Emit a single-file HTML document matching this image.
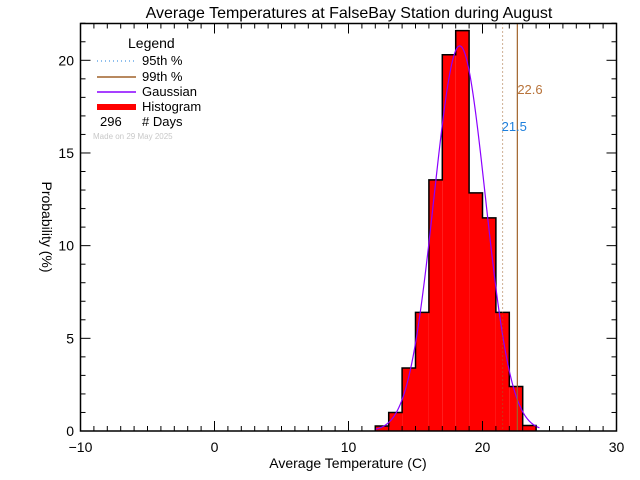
<!DOCTYPE html>
<html><head><meta charset="utf-8"><style>
html,body{margin:0;padding:0;background:#fff;}
svg{display:block;font-family:"Liberation Sans",sans-serif;}
</style></head><body>
<svg id="chart" width="640" height="480" viewBox="0 0 640 480">
<rect width="640" height="480" fill="#fff"/>
<text x="349" y="18" font-size="16" text-anchor="middle">Average Temperatures at FalseBay Station during August</text>
<g id="plot"></g>
<g id="axes"></g>
<text x="348" y="468" font-size="14" text-anchor="middle">Average Temperature (C)</text>
<text transform="translate(42,227) rotate(90)" font-size="14" text-anchor="middle">Probability  (%)</text>
<g>
<text x="128" y="48" font-size="14">Legend</text>
<line x1="97" y1="61" x2="136" y2="61" stroke="#1e7fdc" stroke-width="1" stroke-dasharray="1,3"/>
<text x="142" y="65" font-size="13">95th %</text>
<line x1="97" y1="77" x2="136" y2="77" stroke="#a0622a" stroke-width="1.5"/>
<text x="142" y="81" font-size="13">99th %</text>
<line x1="97" y1="92" x2="136" y2="92" stroke="#8a00ff" stroke-width="1.5"/>
<text x="142" y="96" font-size="13">Gaussian</text>
<line x1="97" y1="107" x2="136" y2="107" stroke="#ff0000" stroke-width="6"/>
<text x="142" y="111" font-size="13">Histogram</text>
<text x="100" y="126" font-size="13">296</text>
<text x="142" y="126" font-size="13"># Days</text>
<text x="93" y="139" font-size="8" fill="#c8c8c8">Made on 29 May 2025</text>
</g>
</svg>
<script>
const binStarts = [12,13,14,15,16,17,18,19,20,21,22,23];
const binValues = [0.27,1.0,3.4,6.4,13.55,20.3,21.6,12.85,11.5,6.4,2.4,0.3];
const gaussMean = 18.3;
const gaussSigma = 1.92;
const p95 = 21.5;
const p99 = 22.6;
const xTicks = [-10,0,10,20,30];
const yTicks = [0,5,10,15,20];

const L=80.5,R=616.5,T=23.5,B=431;
const xMin=-10,xMax=30,yMin=0,yMax=22;
const yScalePx=(B-60.3)/20;
function X(v){return L+(v-xMin)*(R-L)/(xMax-xMin);}
function Y(v){return B-(v-yMin)*yScalePx;}
const NS='http://www.w3.org/2000/svg';
function mk(tag,attrs,parent){const e=document.createElementNS(NS,tag);for(const k in attrs)e.setAttribute(k,attrs[k]);parent.appendChild(e);return e;}
const plot=document.getElementById('plot');
const axes=document.getElementById('axes');

// histogram
let d='M'+X(binStarts[0])+','+B;
binStarts.forEach((s,i)=>{
  const r=mk('rect',{x:X(s),y:Y(binValues[i]),width:X(s+1)-X(s),height:B-Y(binValues[i]),fill:'#ff0000'},plot);
  
  
  d+=' L'+X(s)+','+Y(binValues[i])+' L'+X(s+1)+','+Y(binValues[i]);
});
d+=' L'+X(binStarts[binStarts.length-1]+1)+','+B;
const outline=mk('path',{d:d,fill:'none',stroke:'#000','stroke-width':1.5},plot);



// gaussian
let g='';
for(let x=12;x<=24.3;x+=0.05){
  const v=100/(gaussSigma*Math.sqrt(2*Math.PI))*Math.exp(-0.5*Math.pow((x-gaussMean)/gaussSigma,2));
  g+=(g?' L':'M')+X(x).toFixed(2)+','+Y(v).toFixed(2);
}
const gp=mk('path',{d:g,fill:'none',stroke:'#8a00ff','stroke-width':1.2},plot);



// percentile lines
const l95=mk('line',{x1:X(p95),x2:X(p95),y1:T,y2:B,stroke:'#a0622a','stroke-width':1,'stroke-dasharray':'1,3'},plot);


const l99=mk('line',{x1:X(p99),x2:X(p99),y1:T,y2:B,stroke:'#a0622a','stroke-width':1.2},plot);


const t95=mk('text',{x:X(p95)-1,y:131,'font-size':13,fill:'#1e7fdc'},plot);
t95.textContent=p95.toFixed(1);


const t99=mk('text',{x:X(p99),y:94,'font-size':13,fill:'#b8733a'},plot);
t99.textContent=p99.toFixed(1);



// frame
const fr=mk('rect',{x:L,y:T,width:R-L,height:B-T,fill:'none',stroke:'#000','stroke-width':1.5},axes);


// x ticks
for(let v=xMin;v<=xMax;v++){
  const len=(v%10===0)?10:5;
  mk('line',{x1:X(v),x2:X(v),y1:B,y2:B-len,stroke:'#000','stroke-width':1},axes);
  mk('line',{x1:X(v),x2:X(v),y1:T,y2:T+len,stroke:'#000','stroke-width':1},axes);
}
xTicks.forEach(v=>{
  const t=mk('text',{x:X(v),y:452,'font-size':14,'text-anchor':'middle'},axes);
  t.textContent=v<0?'\u2212'+Math.abs(v):String(v);
  
  
});
// y ticks
for(let v=0;v<=yMax;v++){
  const len=(v%5===0)?10:5;
  mk('line',{x1:L,x2:L+len,y1:Y(v),y2:Y(v),stroke:'#000','stroke-width':1},axes);
  mk('line',{x1:R,x2:R-len,y1:Y(v),y2:Y(v),stroke:'#000','stroke-width':1},axes);
}
yTicks.forEach(v=>{
  const t=mk('text',{x:74,y:Y(v)+5,'font-size':14,'text-anchor':'end'},axes);
  t.textContent=String(v);
  
  
});
</script>
</body></html>
